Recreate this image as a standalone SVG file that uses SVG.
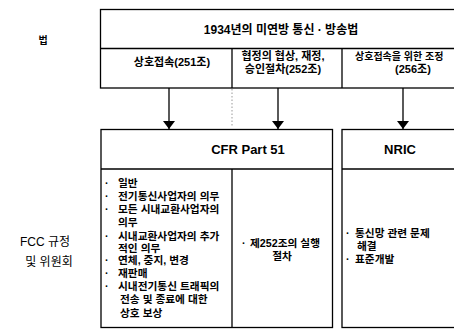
<svg xmlns="http://www.w3.org/2000/svg" width="454" height="329" viewBox="0 0 454 329">
<style>
text{font-family:'Liberation Sans','Noto Sans CJK KR',sans-serif;fill:#000}
.b{font-weight:bold}
.box{fill:#fff;stroke:#000;stroke-width:1.3}
.ln{stroke:#000;stroke-width:1.3;fill:none}
.c{text-anchor:middle}
.li{font-size:10.7px;font-weight:bold}
</style>
<defs>
<marker id="ah" viewBox="0 0 8 12" refX="8" refY="6" markerWidth="8" markerHeight="12" markerUnits="userSpaceOnUse" orient="auto">
<path d="M0,0 L8,6 L0,12 Z" fill="#000"/>
</marker>
</defs>
<rect width="454" height="329" fill="#fff"/>
<g id="label-law"><text x="43" y="44" class="b c" font-size="10">법</text></g>
<g id="label-fcc">
<text x="45" y="246" class="c" font-size="12">FCC 규정</text>
<text x="49" y="266" class="c" font-size="12">및 위원회</text>
</g>
<g id="act">
<rect class="box" x="100.5" y="9.5" width="370" height="78.5"/>
<line class="ln" x1="100.5" y1="48.5" x2="470" y2="48.5"/>
<line class="ln" x1="232" y1="48.5" x2="232" y2="88"/>
<line class="ln" x1="342" y1="48.5" x2="342" y2="88"/>
<text x="281" y="34" class="b c" font-size="12">1934년의 미연방 통신 · 방송법</text>
<text x="172" y="66" class="b c" font-size="11">상호접속(251조)</text>
<text x="283" y="60" class="b c" font-size="11">협정의 협상, 재정,</text>
<text x="283" y="73" class="b c" font-size="11">승인절차(252조)</text>
<text x="355" y="60" class="b" font-size="10">상호접속을 위한 조정</text>
<text x="413" y="73" class="b c" font-size="11">(256조)</text>
</g>
<g id="connectors">
<line class="ln" x1="169" y1="88" x2="169" y2="129" marker-end="url(#ah)"/>
<line class="ln" x1="278" y1="88" x2="278" y2="129" marker-end="url(#ah)"/>
<line class="ln" x1="403" y1="88" x2="403" y2="129" marker-end="url(#ah)"/>
<line x1="232" y1="89" x2="232" y2="127" stroke="#999" stroke-width="1" stroke-dasharray="1.5,2"/>
</g>
<g id="cfr">
<rect class="box" x="101" y="129.5" width="231.5" height="198"/>
<line class="ln" x1="101" y1="169" x2="332.5" y2="169"/>
<line class="ln" x1="232" y1="169" x2="232" y2="327.5"/>
<text x="248" y="154" class="b c" font-size="13">CFR Part 51</text>
<g class="li">
<text x="105" y="187">·</text><text x="118" y="187">일반</text>
<text x="105" y="200">·</text><text x="118" y="200">전기통신사업자의 의무</text>
<text x="105" y="213">·</text><text x="118" y="213">모든 시내교환사업자의</text>
<text x="118" y="226">의무</text>
<text x="105" y="240">·</text><text x="118" y="240">시내교환사업자의 추가</text>
<text x="118" y="252">적인 의무</text>
<text x="105" y="264">·</text><text x="118" y="264">연체, 중지, 변경</text>
<text x="105" y="277">·</text><text x="118" y="277">재판매</text>
<text x="105" y="290">·</text><text x="118" y="290">시내전기통신 트래픽의</text>
<text x="120" y="303">전송 및 종료에 대한</text>
<text x="120" y="317">상호 보상</text>
<text x="242" y="247">·</text><text x="250" y="247">제252조의 실행</text>
<text x="282" y="260" class="c">절차</text>
</g>
</g>
<g id="nric">
<rect class="box" x="342" y="129.5" width="130" height="198"/>
<line class="ln" x1="342" y1="169" x2="472" y2="169"/>
<text x="400" y="154" class="b c" font-size="13">NRIC</text>
<g class="li">
<text x="346" y="237">·</text><text x="355" y="237">통신망 관련 문제</text>
<text x="357" y="250">해결</text>
<text x="346" y="263">·</text><text x="355" y="263">표준개발</text>
</g>
</g>
</svg>
